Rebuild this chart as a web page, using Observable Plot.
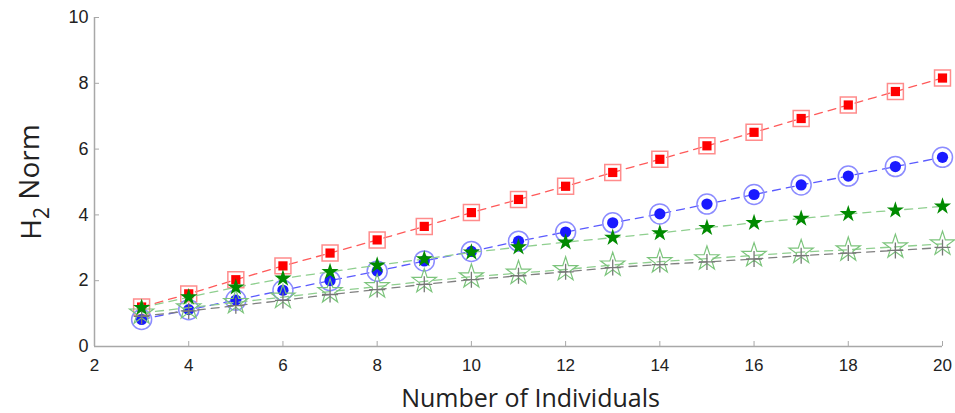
<!DOCTYPE html>
<html>
<head>
<meta charset="utf-8">
<script src="https://cdn.jsdelivr.net/npm/d3@7"></script>
<script src="https://cdn.jsdelivr.net/npm/@observablehq/plot@0.6"></script>
<style>
  html, body { margin: 0; padding: 0; background: #fff; }
  #chart svg { display: block; }
</style>
</head>
<body>
<div id="chart"></div>
<script>
const individuals = [3,4,5,6,7,8,9,10,11,12,13,14,15,16,17,18,19,20];
const redSquares   = [1.2,1.6,2.03,2.45,2.84,3.24,3.65,4.07,4.47,4.87,5.29,5.69,6.1,6.51,6.93,7.34,7.75,8.16];
const blueCircles  = [0.82,1.12,1.41,1.71,2.0,2.29,2.6,2.89,3.2,3.48,3.76,4.03,4.33,4.62,4.91,5.18,5.47,5.75];
const greenStars   = [1.18,1.5,1.8,2.07,2.27,2.47,2.66,2.86,3.02,3.17,3.31,3.45,3.61,3.76,3.89,4.03,4.14,4.26];
const hollowStars  = [1.02,1.18,1.34,1.5,1.67,1.82,1.98,2.12,2.23,2.34,2.48,2.58,2.67,2.77,2.87,2.94,3.03,3.12];
const grayPlus     = [0.92,1.08,1.24,1.4,1.58,1.73,1.89,2.03,2.15,2.27,2.4,2.49,2.57,2.66,2.76,2.84,2.92,3.01];
const xTicks = [2,4,6,8,10,12,14,16,18,20];
const yTicks = [0,2,4,6,8,10];
const xTitle = "Number of Individuals";
const yTitle = "H\u2082 Norm";

const rows = arr => individuals.map((x, i) => ({x, y: arr[i]}));
const dash = "8,6";
const tickFont = "'Liberation Sans', Arial, sans-serif";
const titleFont = "'Open Sans', Lato, sans-serif";

const chart = Plot.plot({
  width: 955,
  height: 413,
  marginLeft: 94,
  marginRight: 13,
  marginTop: 17,
  marginBottom: 67,
  x: {domain: [2, 20]},
  y: {domain: [0, 10]},
  marks: [
    Plot.ruleY([0], {stroke: "#a8a8a8", strokeWidth: 1.5}),
    Plot.ruleX([2], {stroke: "#a8a8a8", strokeWidth: 1.5}),
    Plot.axisX({ticks: xTicks, tickSize: -5, tickFormat: () => "", label: null, stroke: "#a8a8a8", strokeWidth: 1}),
    Plot.axisY({ticks: yTicks, tickSize: -5, tickFormat: () => "", label: null, stroke: "#a8a8a8", strokeWidth: 1}),
    Plot.axisX({ticks: xTicks, tickSize: 0, tickPadding: 12, label: null, fontSize: 17, fontFamily: tickFont, fill: "#222"}),
    Plot.axisY({ticks: yTicks, tickSize: 0, tickPadding: 6, label: null, fontSize: 18, fontFamily: tickFont, fill: "#222"}),
    Plot.text([xTitle], {frameAnchor: "bottom", textAnchor: "middle", dx: 12, dy: 60, lineAnchor: "bottom", fontSize: 25, fontFamily: titleFont, fill: "#222"}),
    Plot.text([yTitle], {frameAnchor: "left", textAnchor: "middle", dx: -62, dy: 0, rotate: -90, fontSize: 28, fontFamily: titleFont, fill: "#222"}),
    // red series
    Plot.line(rows(redSquares), {x: "x", y: "y", stroke: "#ff5a5a", strokeWidth: 1.3, strokeDasharray: dash}),
    Plot.dot(rows(redSquares), {x: "x", y: "y", symbol: "square", r: 9, stroke: "#ff8c8c", strokeWidth: 1.5, fill: "none"}),
    Plot.dot(rows(redSquares), {x: "x", y: "y", symbol: "square", r: 5.2, fill: "#ff0000", stroke: "none"}),
    // blue series
    Plot.line(rows(blueCircles), {x: "x", y: "y", stroke: "#5a5aff", strokeWidth: 1.3, strokeDasharray: dash}),
    Plot.dot(rows(blueCircles), {x: "x", y: "y", symbol: "circle", r: 10, stroke: "#8c8cff", strokeWidth: 1.5, fill: "none"}),
    Plot.dot(rows(blueCircles), {x: "x", y: "y", symbol: "circle", r: 5.6, fill: "#1a1aff", stroke: "none"}),
    // hollow green stars
    Plot.line(rows(hollowStars), {x: "x", y: "y", stroke: "#8fcf8f", strokeWidth: 1.3, strokeDasharray: dash}),
    Plot.dot(rows(hollowStars), {x: "x", y: "y", symbol: "star", r: 7.6, stroke: "#7cc47c", strokeWidth: 1.2, fill: "none"}),
    // gray plus
    Plot.line(rows(grayPlus), {x: "x", y: "y", stroke: "#808080", strokeWidth: 1.3, strokeDasharray: dash}),
    Plot.dot(rows(grayPlus), {x: "x", y: "y", symbol: "plus", r: 5.2, stroke: "#777777", strokeWidth: 1.3, fill: "none"}),
    // filled green stars
    Plot.line(rows(greenStars), {x: "x", y: "y", stroke: "#8fcf8f", strokeWidth: 1.3, strokeDasharray: dash}),
    Plot.dot(rows(greenStars), {x: "x", y: "y", symbol: "star", r: 5.4, fill: "#008a00", stroke: "none"})
  ]
});
document.getElementById("chart").appendChild(chart);

// Render the "2" of the y title as a proper subscript (text stays real text)
d3.select(chart).selectAll("text")
  .filter(function() { return this.textContent === yTitle; })
  .each(function() {
    const t = d3.select(this);
    const [head, sub, ...rest] = Array.from(yTitle);
    t.text(null);
    t.append("tspan").text(head);
    t.append("tspan").attr("font-size", "0.75em").attr("dy", "0.35em").text(sub === "\u2082" ? "2" : sub);
    t.append("tspan").attr("dy", "-0.35em").text(rest.join(""));
  });
</script>
</body>
</html>
